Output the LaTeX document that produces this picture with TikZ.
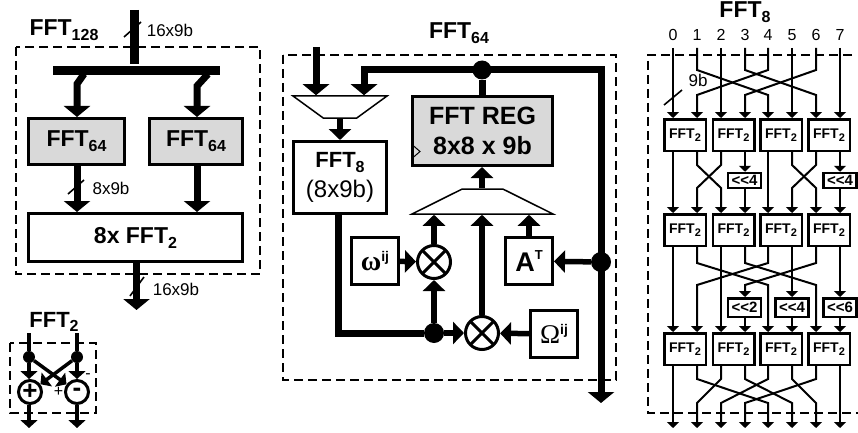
\documentclass[tikz,border=0pt]{standalone}
\usepackage{fontspec}
\setmainfont{Liberation Sans}
\newfontfamily\greekfont{Liberation Serif}
\usetikzlibrary{arrows.meta,shapes.geometric}
\newcommand{\fftname}[3]{\fontsize{#1}{#1}\selectfont FFT\raisebox{-.22em}{\fontsize{#2}{#2}\selectfont #3}}
\begin{document}
\begin{tikzpicture}[x=1pt, y=-1pt,
    lnode/.style={font=\bfseries, inner sep=0pt},
    wnode/.style={inner sep=0pt, font=\fontsize{17}{17}\selectfont},
    dnode/.style={inner sep=0pt, font=\fontsize{16}{16}\selectfont},
    bnode/.style={draw, line width=3pt, fill=white, inner sep=0pt, font=\bfseries},
    gnode/.style={bnode, fill=black!15},
    fnode/.style={draw, line width=2.5pt, fill=white, inner sep=0pt, minimum width=41.5pt, minimum height=31.5pt, font=\bfseries},
    snode/.style={draw, line width=2.5pt, fill=white, inner sep=0pt, minimum width=33pt, font=\bfseries\fontsize{15}{15}\selectfont},
    onode/.style={circle, fill=black, inner sep=0pt, minimum size=#1},
    mnode/.style={draw, circle, line width=3pt, fill=white, inner sep=0pt, minimum size=33pt,
        path picture={\draw[line width=3pt] (path picture bounding box.south west) -- (path picture bounding box.north east);
            \draw[line width=3pt] (path picture bounding box.north west) -- (path picture bounding box.south east);}},
    anode/.style={draw, circle, line width=3pt, fill=white, inner sep=0pt, minimum size=23pt, font=\bfseries\fontsize{26}{26}\selectfont},
    tnode/.style={draw, line width=1.5pt, fill=white, trapezium, trapezium stretches=true, inner sep=1pt},
    dbox/.style={line width=1.2pt, dash pattern=on 9pt off 5pt},
    bus/.style={line width=7pt, -{Triangle[width=26pt,length=11pt]}},
    mbus/.style={line width=5.5pt, -{Triangle[width=22pt,length=11pt]}},
    sbus/.style={line width=3.5pt, -{Triangle[width=17pt,length=8pt]}},
    wire/.style={line width=2pt, -{Triangle[width=12pt,length=6pt]}},
    tick/.style={line width=1.6pt}]
    \useasboundingbox (0,0) rectangle (858,433);

    \draw[dbox] (16,47) rectangle (260,274);
    \draw[dbox] (10,343) rectangle (96,413);
    \draw[dbox] (283,55) rectangle (616,380);
    \coordinate (dtr) at (852,55);
    \coordinate (dtl) at (648,55);
    \coordinate (dbl) at (648,413);
    \coordinate (dbr) at (858,413);
    \draw[dbox] (dtr) -- (dtl) -- (dbl) -- (dbr);

    \node[lnode] (t128) at (64,30) {\fftname{23pt}{16pt}{128}};
    \node[wnode] (w128a) at (170,30) {16x9b};
    \node[bnode, fill=black, draw=none, minimum width=167pt, minimum height=9pt] (bar) at (136.5,70.5) {};
    \node[gnode, minimum width=96pt, minimum height=46pt] (f64a) at (76.5,141.5) {\fftname{23pt}{16pt}{64}};
    \node[gnode, minimum width=93pt, minimum height=46pt] (f64b) at (196,141.5) {\fftname{23pt}{16pt}{64}};
    \node[wnode] (w128b) at (111,188) {8x9b};
    \node[bnode, minimum width=214pt, minimum height=48pt] (f2s) at (135.5,237.5) {\fontsize{23pt}{23pt}\selectfont 8x FFT\raisebox{-.22em}{\fontsize{16pt}{16pt}\selectfont 2}};
    \node[wnode] (w128c) at (176,289) {16x9b};

    \coordinate (in128) at (134,10);
    \draw[line width=9pt] (in128) -- (in128 |- bar.north);
    \coordinate (bla) at (84,74);
    \coordinate (blb) at (77,84);
    \coordinate (bra) at (208,74);
    \coordinate (brb) at (197,86);
    \draw[bus] (bla) -- (blb) -- (blb |- f64a.north);
    \draw[bus] (bra) -- (brb) -- (brb |- f64b.north);
    \draw[bus] (blb |- f64a.south) -- (blb |- f2s.north);
    \draw[bus] (brb |- f64b.south) -- (brb |- f2s.north);
    \coordinate (o128) at (136.5,310);
    \draw[bus] (o128 |- f2s.south) -- (o128);
    \coordinate (tka) at (124,37);
    \coordinate (tkb) at (141,22);
    \draw[tick] (tka) -- (tkb);
    \coordinate (tkc) at (68,194);
    \coordinate (tkd) at (84,180);
    \draw[tick] (tkc) -- (tkd);
    \coordinate (tke) at (130,296);
    \coordinate (tkf) at (144,277);
    \draw[tick] (tke) -- (tkf);

    \node[lnode] (t2) at (54,322) {\fftname{22pt}{16pt}{2}};
    \node[onode=12pt] (da) at (29,357) {};
    \node[onode=12pt] (db) at (77,357) {};
    \node[anode] (add) at (30,392) {+};
    \node[anode] (sub) at (77,392) {-};
    \node[dnode] (pl) at (58.5,392) {+};
    \node[dnode] (mi) at (88,376) {-};
    \coordinate (ia) at (29,333);
    \coordinate (ib) at (77,333);
    \coordinate (oa) at (29,428);
    \coordinate (ob) at (77,428);
    \draw[line width=3.5pt] (ia) -- (da);
    \draw[line width=3.5pt] (ib) -- (db);
    \draw[sbus] (da) -- (da |- add.north);
    \draw[sbus] (db) -- (db |- sub.north);
    \draw[sbus] (da) -- (sub);
    \draw[sbus] (db) -- (add);
    \draw[sbus] (oa |- add.south) -- (oa);
    \draw[sbus] (ob |- sub.south) -- (ob);

    \node[lnode] (t64) at (459,33) {\fftname{23pt}{16pt}{64}};
    \node[tnode, shape border rotate=180, minimum width=94pt, minimum height=22pt, trapezium angle=48] (mux) at (340,107) {};
    \node[bnode, minimum width=93pt, minimum height=72pt, align=center] (f8) at (340,177.5) {\fftname{22pt}{16pt}{8}\\[7pt]{\mdseries\fontsize{24}{24}\selectfont (8x9b)}};
    \node[gnode, minimum width=140pt, minimum height=69pt, align=center] (reg) at (482.5,131) {\fontsize{25}{25}\selectfont FFT REG\\[10pt]\fontsize{25}{25}\selectfont 8x8 x 9b};
    \node[tnode, minimum width=141pt, minimum height=25pt, trapezium angle=39] (dmx) at (482.5,201.5) {};
    \node[bnode, minimum width=47pt, minimum height=47pt] (w) at (375,261) {{\greekfont\fontsize{28}{28}\selectfont ω}\raisebox{9pt}{\fontsize{14}{14}\selectfont ij}};
    \node[bnode, minimum width=47pt, minimum height=47pt] (at) at (529,261) {\fontsize{27}{27}\selectfont A\raisebox{.45em}{\fontsize{13}{13}\selectfont T}};
    \node[bnode, minimum width=47pt, minimum height=47pt] (om) at (554,334) {{\greekfont\mdseries\fontsize{27}{27}\selectfont Ω}\raisebox{9pt}{\fontsize{14}{14}\selectfont ij}};
    \node[onode=19pt] (dfb) at (482,70) {};
    \node[onode=20pt] (dat) at (601,262) {};
    \node[onode=20pt] (dm) at (434,333) {};
    \node[mnode] (ma) at (434,262) {};
    \node[mnode] (mb) at (482,333) {};

    \coordinate (in64) at (316,47);
    \coordinate (fbt) at (364,70);
    \coordinate (fbr) at (601,70);
    \coordinate (o64) at (601,403);
    \coordinate (f8b) at (338,333);
    \draw[bus] (in64) -- (in64 |- mux.north);
    \draw[bus, line join=miter] (fbr) -- (fbt) -- (fbt |- mux.north);
    \draw[bus, line cap=rect] (dfb -| fbr) -- (o64);
    \draw[line width=7pt] (dfb) -- (dfb |- reg.north);
    \draw[mbus] (mux.south -| f8) -- (f8.north);
    \draw[line width=7pt, line join=miter] (f8b |- f8.south) -- (f8b) -- (dm);
    \draw[mbus] (dfb |- dmx.north) -- (dfb |- reg.south);
    \draw[mbus] (ma) -- (ma |- dmx.south);
    \draw[mbus] (mb) -- (mb |- dmx.south);
    \draw[mbus] (at.north) -- (at.north |- dmx.south);
    \draw[mbus] (dat) -- (at);
    \draw[mbus] (w) -- (ma);
    \draw[mbus] (dm) -- (ma);
    \draw[mbus] (dm) -- (mb);
    \draw[mbus] (om) -- (mb);
    \coordinate (cka) at (412.5,145);
    \coordinate (ckb) at (420,151.5);
    \coordinate (ckc) at (412.5,158);
    \draw[line width=1pt] (cka) -- (ckb) -- (ckc);

    \node[lnode] (t8) at (745,12) {\fftname{23pt}{16pt}{8}};
    \node[dnode] (d0) at (673,35) {0};
    \node[dnode] (d1) at (697,35) {1};
    \node[dnode] (d2) at (721,35) {2};
    \node[dnode] (d3) at (745,35) {3};
    \node[dnode] (d4) at (768,35) {4};
    \node[dnode] (d5) at (792,35) {5};
    \node[dnode] (d6) at (816,35) {6};
    \node[dnode] (d7) at (840,35) {7};
    \node[wnode] (w9) at (698,80) {9b};
    \coordinate (tkg) at (664,105);
    \coordinate (tkh) at (682,90);
    \draw[tick] (tkg) -- (tkh);

    \node[fnode] (fa0) at (685,135) {\fftname{14pt}{11pt}{2}};
    \node[fnode] (fa1) at (733.5,135) {\fftname{14pt}{11pt}{2}};
    \node[fnode] (fa2) at (781,135) {\fftname{14pt}{11pt}{2}};
    \node[fnode] (fa3) at (829,135) {\fftname{14pt}{11pt}{2}};
    \node[fnode] (fb0) at (685,230) {\fftname{14pt}{11pt}{2}};
    \node[fnode] (fb1) at (733.5,230) {\fftname{14pt}{11pt}{2}};
    \node[fnode] (fb2) at (781,230) {\fftname{14pt}{11pt}{2}};
    \node[fnode] (fb3) at (829,230) {\fftname{14pt}{11pt}{2}};
    \node[fnode] (fc0) at (685,349) {\fftname{14pt}{11pt}{2}};
    \node[fnode] (fc1) at (733.5,349) {\fftname{14pt}{11pt}{2}};
    \node[fnode] (fc2) at (781,349) {\fftname{14pt}{11pt}{2}};
    \node[fnode] (fc3) at (829,349) {\fftname{14pt}{11pt}{2}};
    \node[snode, minimum height=15pt] (sa) at (744.5,180.5) {<{}<4};
    \node[snode, minimum height=15pt] (sb) at (840,180.5) {<{}<4};
    \node[snode, minimum height=18.5pt] (sc) at (744.5,307.5) {<{}<2};
    \node[snode, minimum height=18.5pt] (sd) at (792,307.5) {<{}<4};
    \node[snode, minimum height=18.5pt] (se) at (840,307.5) {<{}<6};

    \coordinate (ytop) at (0,48);
    \coordinate (ya) at (0,70);
    \coordinate (yb) at (0,95);
    \coordinate (yc) at (0,165);
    \coordinate (yd) at (0,188);
    \coordinate (ye) at (0,263);
    \coordinate (yf) at (0,285);
    \coordinate (yg) at (0,379);
    \coordinate (yh) at (0,403);
    \coordinate (yo) at (0,428);

    \draw[wire] (d0 |- ytop) -- (d0 |- fa0.north);
    \draw[wire] (d1 |- ytop) -- (d1 |- ya) -- (d4 |- yb) -- (d4 |- fa2.north);
    \draw[wire] (d2 |- ytop) -- (d2 |- fa1.north);
    \draw[wire] (d3 |- ytop) -- (d3 |- ya) -- (d6 |- yb) -- (d6 |- fa3.north);
    \draw[wire] (d4 |- ytop) -- (d4 |- ya) -- (d1 |- yb) -- (d1 |- fa0.north);
    \draw[wire] (d5 |- ytop) -- (d5 |- fa2.north);
    \draw[wire] (d6 |- ytop) -- (d6 |- ya) -- (d3 |- yb) -- (d3 |- fa1.north);
    \draw[wire] (d7 |- ytop) -- (d7 |- fa3.north);

    \draw[wire] (d0 |- fa0.south) -- (d0 |- fb0.north);
    \draw[wire] (d1 |- fa0.south) -- (d1 |- yc) -- (d2 |- yd) -- (d2 |- fb1.north);
    \draw[wire] (d2 |- fa1.south) -- (d2 |- yc) -- (d1 |- yd) -- (d1 |- fb0.north);
    \draw[wire] (d3 |- fa1.south) -- (d3 |- sa.north);
    \draw[wire] (d3 |- sa.south) -- (d3 |- fb1.north);
    \draw[wire] (d4 |- fa2.south) -- (d4 |- fb2.north);
    \draw[wire] (d5 |- fa2.south) -- (d5 |- yc) -- (d6 |- yd) -- (d6 |- fb3.north);
    \draw[wire] (d6 |- fa3.south) -- (d6 |- yc) -- (d5 |- yd) -- (d5 |- fb2.north);
    \draw[wire] (d7 |- fa3.south) -- (d7 |- sb.north);
    \draw[wire] (d7 |- sb.south) -- (d7 |- fb3.north);

    \draw[wire] (d0 |- fb0.south) -- (d0 |- fc0.north);
    \draw[wire] (d1 |- fb0.south) -- (d1 |- ye) -- (d4 |- yf) -- (d4 |- fc2.north);
    \draw[wire] (d2 |- fb1.south) -- (d2 |- fc1.north);
    \draw[wire] (d3 |- fb1.south) -- (d3 |- ye) -- (d6 |- yf) -- (d6 |- fc3.north);
    \draw[wire] (d4 |- fb2.south) -- (d4 |- ye) -- (d1 |- yf) -- (d1 |- fc0.north);
    \draw[wire] (d5 |- fb2.south) -- (d5 |- sd.north);
    \draw[wire] (d5 |- sd.south) -- (d5 |- fc2.north);
    \draw[wire] (d6 |- fb3.south) -- (d6 |- ye) -- (d3 |- yf) -- (d3 |- sc.north);
    \draw[wire] (d3 |- sc.south) -- (d3 |- fc1.north);
    \draw[wire] (d7 |- fb3.south) -- (d7 |- se.north);
    \draw[wire] (d7 |- se.south) -- (d7 |- fc3.north);

    \draw[wire] (d0 |- fc0.south) -- (d0 |- yo);
    \draw[wire] (d1 |- fc0.south) -- (d1 |- yg) -- (d4 |- yh) -- (d4 |- yo);
    \draw[wire] (d2 |- fc1.south) -- (d2 |- yg) -- (d1 |- yh) -- (d1 |- yo);
    \draw[wire] (d3 |- fc1.south) -- (d3 |- yg) -- (d5 |- yh) -- (d5 |- yo);
    \draw[wire] (d4 |- fc2.south) -- (d4 |- yg) -- (d2 |- yh) -- (d2 |- yo);
    \draw[wire] (d5 |- fc2.south) -- (d5 |- yg) -- (d6 |- yh) -- (d6 |- yo);
    \draw[wire] (d6 |- fc3.south) -- (d6 |- yg) -- (d3 |- yh) -- (d3 |- yo);
    \draw[wire] (d7 |- fc3.south) -- (d7 |- yo);
\end{tikzpicture}
\end{document}
